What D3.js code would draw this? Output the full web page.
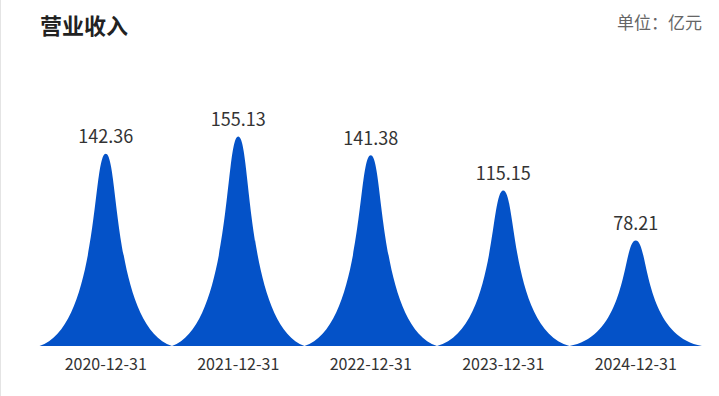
<!DOCTYPE html>
<html lang="zh">
  <head>
    <meta charset="utf-8">
    <title>营业收入</title>
    <script src="https://d3js.org/d3.v7.min.js"></script>
    <style>
      body { margin: 0; background: #fff; }
      text { font-family: "Noto Sans CJK SC", "Microsoft YaHei", sans-serif; }
    </style>
  </head>
  <body>
    <div id="chart"></div>
    <script>
      var w = 719, h = 396;

      // data
      var dates = ["2020-12-31", "2021-12-31", "2022-12-31", "2023-12-31", "2024-12-31"];
      var revenue = [142.36, 155.13, 141.38, 115.15, 78.21];

      var title = "营业收入";
      var unitLabel = "单位：亿元";

      var color = "#0452c8";

      var svg = d3.select("#chart").append("svg")
                  .attr("width", w)
                  .attr("height", h);

      // faint left border
      svg.append("line")
         .attr("x1", 0.5).attr("x2", 0.5)
         .attr("y1", 0).attr("y2", h)
         .attr("stroke", "#e4e4e4");

      var xScale = d3.scaleBand().domain(dates).range([39.5, 702]).padding(0);
      var yScale = d3.scaleLinear().domain([0, 160]).range([346, 130]);

      // peak shaped bar, same curve template mirrored on both sides
      function peak(d, i){
        var x0 = xScale(dates[i]);
        var hw = xScale.bandwidth() / 2;
        var cx = x0 + hw;
        var base = yScale(0);
        var top = yScale(d);
        var H = base - top;
        var p = d3.path();
        p.moveTo(x0, base);
        p.bezierCurveTo(cx - 0.1 * hw, base - 0.1 * H, cx - 0.2 * hw, top, cx, top);
        p.bezierCurveTo(cx + 0.2 * hw, top, cx + 0.1 * hw, base - 0.1 * H, cx + hw, base);
        p.closePath();
        return p.toString();
      }

      svg.append("g").selectAll("path").data(revenue)
         .enter().append("path")
         .attr("d", peak)
         .attr("fill", color);

      svg.append("g").selectAll("text").data(revenue)
         .enter().append("text")
         .attr("x", (d, i) => xScale(dates[i]) + xScale.bandwidth() / 2)
         .attr("y", d => yScale(d) - 10.5)
         .attr("text-anchor", "middle")
         .attr("font-size", 18)
         .attr("fill", "#333")
         .text(d => d.toFixed(2));

      var xAxis = d3.axisBottom(xScale).tickSize(0).tickPadding(13);
      var gx = svg.append("g")
         .attr("transform", `translate(0, ${yScale(0)})`)
         .call(xAxis);
      gx.select(".domain").remove();
      gx.selectAll("text")
        .attr("font-size", 16)
        .attr("fill", "#333")
        .attr("font-family", "\"Noto Sans CJK SC\", sans-serif");

      svg.append("text")
         .attr("x", 40).attr("y", 34)
         .attr("font-size", 22)
         .attr("font-weight", "bold")
         .attr("fill", "#222")
         .text(title);

      svg.append("text")
         .attr("x", 702).attr("y", 29)
         .attr("text-anchor", "end")
         .attr("font-size", 17)
         .attr("fill", "#666")
         .text(unitLabel);
    </script>
  </body>
</html>
